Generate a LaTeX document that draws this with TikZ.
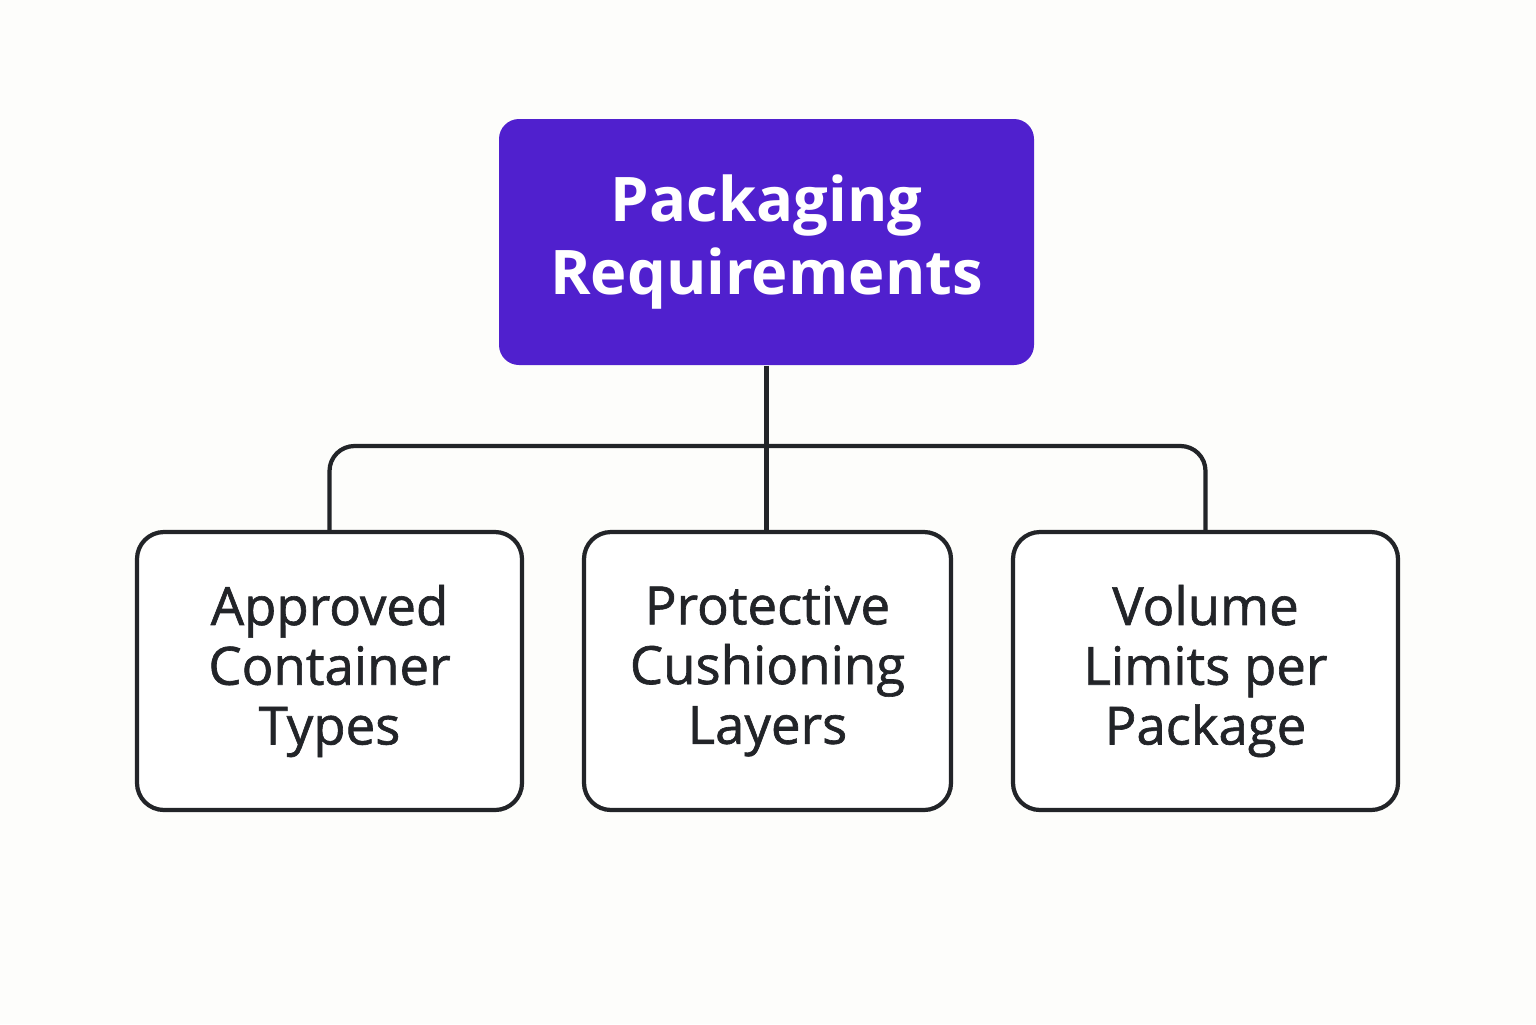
\documentclass[tikz,border=0pt]{standalone}
\usepackage{fontspec}
\setmainfont{Open Sans}
\newfontfamily\medfont[FakeBold=1.2]{Open Sans}
\usepackage{tikz}
\usetikzlibrary{positioning}

\definecolor{headpurple}{HTML}{5020CE}
\definecolor{inkdark}{HTML}{222428}
\definecolor{paper}{HTML}{FDFDFB}

\begin{document}
\begin{tikzpicture}[
    head/.style ={rectangle, rounded corners=0.2cm, fill=headpurple, text=white, align=center, minimum width=5.35cm, minimum height=2.46cm, font=\bfseries\fontsize{17.5}{20.5}\selectfont},
    item/.style ={rectangle, rounded corners=0.27cm, draw=inkdark, line width=1.2pt, fill=white, align=center, minimum width=3.85cm, minimum height=2.78cm, text=inkdark, font=\medfont\fontsize{15}{17}\selectfont},
    link/.style ={draw=inkdark, line width=1.2pt, rounded corners=0.25cm},
]
\fill[paper] (0,0) rectangle (15.36,-10.24);
\useasboundingbox (0,0) rectangle (15.36,-10.24);

% Nodes
\node [head] (pack) at (7.665,-2.42) {Packaging\\Requirements};
\node [item] (approved) at (3.295,-6.71) {Approved\\Container\\Types};
\node [item, minimum width=3.67cm] (cushion) at (7.675,-6.71) {Protective\\Cushioning\\Layers};
\node [item] (volume) at (12.055,-6.71) {Volume\\Limits per\\Package};
\coordinate (fork) at (7.665,-4.46);

% Lines
\path [link] (pack.south) -- (cushion.north -| pack.south);
\path [link] (approved.north) |- (fork) -| (volume.north);

\end{tikzpicture}
\end{document}
